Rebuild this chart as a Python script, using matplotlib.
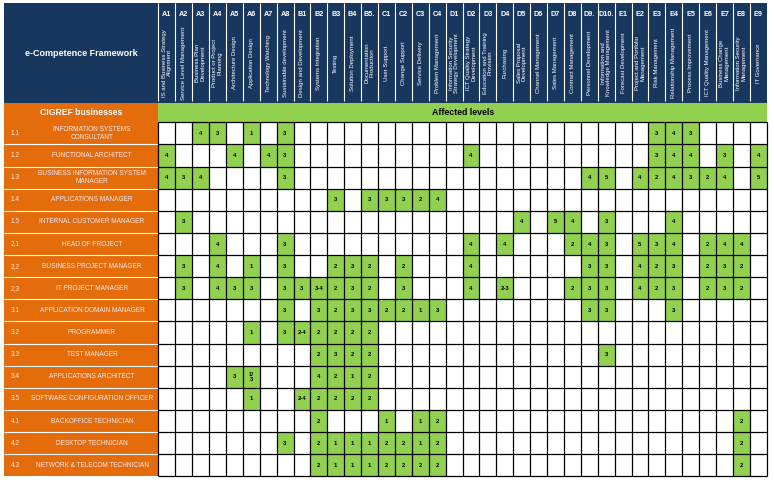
import matplotlib.pyplot as plt
from matplotlib.patches import Rectangle

# e-CF competences (columns)
col_codes = ["A1", "A2", "A3", "A4", "A5", "A6", "A7", "A8",
             "B1", "B2", "B3", "B4", "B5.",
             "C1", "C2", "C3", "C4",
             "D1", "D2", "D3", "D4", "D5", "D6", "D7", "D8", "D9.", "D10.",
             "E1", "E2", "E3", "E4", "E5", "E6", "E7", "E8", "E9"]
col_titles = ["IS and Business Strategy\nAlignment", "Service Level Management",
              "Business Plan\nDevelopment", "Product or Project\nPlanning",
              "Architecture Design", "Application Design", "Technology Watching",
              "Sustainable development",
              "Design and Development", "Systems Integration", "Testing",
              "Solution Deployment", "Documentation\nProduction",
              "User Support", "Change Support", "Service Delivery", "Problem Management",
              "Information Security\nStrategy Development", "ICT Quality Strategy\nDevelopment",
              "Education and Training\nProvision", "Purchasing", "Sales Proposal\nDevelopment",
              "Channel Management", "Sales Management", "Contract Management",
              "Personnel Development", "Information and\nKnowledge Management",
              "Forecast Development", "Project and Portfolio\nManagement", "Risk Management",
              "Relationship Management", "Process Improvement", "ICT Quality Management",
              "Business Change\nManagement", "Information Security\nManagement", "IT Governance"]

# CIGREF businesses (rows)
row_codes = ["1.1", "1.2", "1.3", "1.4", "1.5", "2,1", "2,2", "2,3",
             "3.1", "3.2", "3.3", "3.4", "3.5", "4.1", "4.2", "4.3"]
row_names = ["INFORMATION SYSTEMS\nCONSULTANT", "FUNCTIONAL ARCHITECT",
             "BUSINESS INFORMATION SYSTEM\nMANAGER", "APPLICATIONS MANAGER",
             "INTERNAL CUSTOMER MANAGER", "HEAD OF PROJECT", "BUSINESS PROJECT MANAGER",
             "IT PROJECT MANAGER", "APPLICATION DOMAIN MANAGER", "PROGRAMMER",
             "TEST MANAGER", "APPLICATIONS ARCHITECT", "SOFTWARE CONFIGURATION OFFICER",
             "BACKOFFICE TECHNICIAN", "DESKTOP TECHNICIAN", "NETWORK & TELECOM TECHNICIAN"]

# affected levels per business
levels = [
    {"A3": "4", "A4": "3", "A6": "1", "A8": "3", "E3": "3", "E4": "4", "E5": "3"},
    {"A1": "4", "A5": "4", "A7": "4", "A8": "3", "D2": "4", "E3": "3", "E4": "4",
     "E5": "4", "E7": "3", "E9": "4"},
    {"A1": "4", "A2": "3", "A3": "4", "A8": "3", "D9.": "4", "D10.": "5", "E2": "4",
     "E3": "2", "E4": "4", "E5": "3", "E6": "2", "E7": "4", "E9": "5"},
    {"B3": "3", "B5.": "3", "C1": "3", "C2": "3", "C3": "2", "C4": "4"},
    {"A2": "3", "D5": "4", "D7": "5", "D8": "4", "D10.": "3", "E4": "4"},
    {"A4": "4", "A8": "3", "D2": "4", "D4": "4", "D8": "2", "D9.": "4", "D10.": "3",
     "E2": "5", "E3": "3", "E4": "4", "E6": "2", "E7": "4", "E8": "4"},
    {"A2": "3", "A4": "4", "A6": "1", "A8": "3", "B3": "2", "B4": "3", "B5.": "2",
     "C2": "2", "D2": "4", "D9.": "3", "D10.": "3", "E2": "4", "E3": "2", "E4": "3",
     "E6": "2", "E7": "3", "E8": "2"},
    {"A2": "3", "A4": "4", "A5": "3", "A6": "3", "A8": "3", "B1": "3", "B2": "3-4",
     "B3": "2", "B4": "3", "B5.": "2", "C2": "3", "D2": "4", "D4": "2-3", "D8": "2",
     "D9.": "3", "D10.": "3", "E2": "4", "E3": "2", "E4": "3", "E6": "2", "E7": "3",
     "E8": "2"},
    {"A8": "3", "B2": "3", "B3": "2", "B4": "3", "B5.": "3", "C1": "2", "C2": "2",
     "C3": "1", "C4": "3", "D9.": "3", "D10.": "3", "E4": "3"},
    {"A6": "1", "A8": "3", "B1": "2-4", "B2": "2", "B3": "2", "B4": "2", "B5.": "2"},
    {"B2": "2", "B3": "3", "B4": "2", "B5.": "2", "D10.": "3"},
    {"A5": "3", "A6": "1/\n3", "B2": "4", "B3": "2", "B4": "1", "B5.": "2"},
    {"A6": "1", "B1": "2-4", "B2": "2", "B3": "2", "B4": "2", "B5.": "2"},
    {"B2": "2", "C1": "1", "C3": "1", "C4": "2", "E8": "2"},
    {"A8": "3", "B2": "2", "B3": "1", "B4": "1", "B5.": "1", "C1": "2", "C2": "2",
     "C3": "1", "C4": "2", "E8": "2"},
    {"B2": "2", "B3": "1", "B4": "1", "B5.": "1", "C1": "2", "C2": "2", "C3": "2",
     "C4": "2", "E8": "2"},
]

NAVY = "#17375E"
ORANGE = "#E46C0A"
GREEN = "#92D050"
LABEL = "#FCEAF4"

plt.rcParams["font.family"] = ["Liberation Sans", "DejaVu Sans"]

# layout in pixels
W, H = 774, 482
left, top = 4, 3
gx0, cw = 158.3, 16.9
head_bot, band_bot, rh = 102.7, 122.3, 22.13
ncol, nrow = len(col_codes), len(row_codes)
gx1 = gx0 + ncol * cw
gy1 = band_bot + nrow * rh

fig = plt.figure(figsize=(W / 100, H / 100), dpi=100)
ax = fig.add_axes([0, 0, 1, 1])
ax.set_xlim(0, W)
ax.set_ylim(H, 0)
ax.axis("off")

# header blocks
ax.add_patch(Rectangle((left, top), gx1 - left, head_bot - top, fc=NAVY, ec="none"))
ax.add_patch(Rectangle((left, head_bot), gx0 - left, gy1 - head_bot, fc=ORANGE, ec="none"))
ax.add_patch(Rectangle((gx0, head_bot), gx1 - gx0, band_bot - head_bot, fc=GREEN, ec="none"))

ax.text((left + gx0) / 2, 54, "e-Competence Framework", color="white",
        fontsize=6.5, fontweight="bold", ha="center", va="center")
ax.text((left + gx0) / 2, 112.5, "CIGREF businesses", color="white",
        fontsize=6.2, fontweight="bold", ha="center", va="center")
ax.text(463, 112.5, "Affected levels", color="black",
        fontsize=6.3, fontweight="bold", ha="center", va="center")

# column headers
for j, (code, title) in enumerate(zip(col_codes, col_titles)):
    cx = gx0 + (j + 0.5) * cw
    ax.text(cx, 14.5, code, color="white", fontsize=5.2, fontweight="bold",
            ha="center", va="center")
    ax.text(cx, 63, title, color="white", fontsize=4.3, rotation=90,
            ha="center", va="center", multialignment="center", linespacing=1.05)
ax.vlines([gx0 + j * cw for j in range(ncol)], top, head_bot - 2, color="white", lw=0.8)

# row labels
for i, (code, name) in enumerate(zip(row_codes, row_names)):
    cy = band_bot + (i + 0.5) * rh
    ax.text(15, cy, code, color=LABEL, fontsize=4.7, ha="center", va="center")
    ax.text(92, cy, name, color=LABEL, fontsize=4.7, ha="center", va="center",
            multialignment="center", linespacing=1.3)
ax.hlines([band_bot + i * rh for i in range(1, nrow)], left, gx0, color="white", lw=0.8)

# affected cells
for i, row in enumerate(levels):
    for code, val in row.items():
        j = col_codes.index(code)
        x, y = gx0 + j * cw, band_bot + i * rh
        ax.add_patch(Rectangle((x, y), cw, rh, fc=GREEN, ec="none"))
        ax.text(x + cw / 2, y + rh / 2, val, fontsize=4.3, fontweight="bold",
                ha="center", va="center", linespacing=1.0)

# grid
ax.vlines([gx0 + j * cw for j in range(ncol + 1)], band_bot, gy1, color="black", lw=0.9)
ax.hlines([band_bot + i * rh for i in range(nrow + 1)], gx0, gx1, color="black", lw=0.9)

fig.savefig("out.png", dpi=100)
